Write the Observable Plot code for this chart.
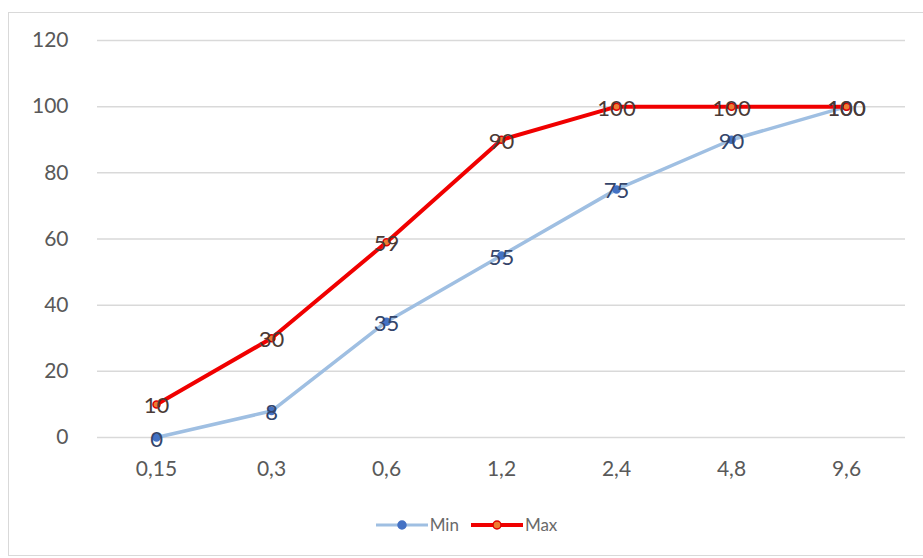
<!DOCTYPE html>
<html><head><meta charset="utf-8">
<script src="https://cdn.jsdelivr.net/npm/d3@7"></script>
<script src="https://cdn.jsdelivr.net/npm/@observablehq/plot@0.6"></script>
<style>
body{margin:0;background:#fff;font-family:Lato,"Open Sans",sans-serif;}
#wrap{position:relative;width:923px;height:558px;overflow:hidden;}
#frame{position:absolute;left:8px;top:12px;width:930px;height:544px;border:1px solid #d9d9d9;box-sizing:border-box;}
#chart{position:absolute;left:0;top:0;}
#legend{position:absolute;top:514px;left:0;width:923px;display:flex;justify-content:center;gap:12px;font-size:17px;color:#6a6a6a;padding-left:10px;box-sizing:border-box;}
.item{display:flex;align-items:center;gap:2px;}
</style></head>
<body><div id="wrap"><div id="frame"></div><div id="chart"></div><div id="legend"></div></div>
<script>
const categories = ["0,15","0,3","0,6","1,2","2,4","4,8","9,6"];
const minValues = [0, 8, 35, 55, 75, 90, 100];
const maxValues = [10, 30, 59, 90, 100, 100, 100];
const yTicks = [0, 20, 40, 60, 80, 100, 120];
const seriesNames = ["Min", "Max"];

const minData = categories.map((c,i)=>({cat:c, v:minValues[i]}));
const maxData = categories.map((c,i)=>({cat:c, v:maxValues[i]}));

const chart = Plot.plot({
  width: 923, height: 500,
  marginLeft: 97, marginRight: 18, marginTop: 40, marginBottom: 63,
  style: {fontFamily: "Lato, 'Open Sans', sans-serif", background: "transparent"},
  x: {type: "point", domain: categories, padding: 0.5, label: null},
  y: {domain: [0, 120], ticks: yTicks, label: null},
  marks: [
    Plot.gridY(yTicks, {stroke: "#d9d9d9", strokeOpacity: 1, strokeWidth: 1.5}),
    Plot.axisY(yTicks, {tickSize: 0, tickPadding: 29, fontSize: 21, fill: "#595959", tickFormat: d=>String(d)}),
    Plot.axisX({tickSize: 0, tickPadding: 24, fontSize: 21, fill: "#595959"}),
    Plot.line(minData, {x: "cat", y: "v", stroke: "#9fbfe2", strokeWidth: 3.5}),
    Plot.line(maxData, {x: "cat", y: "v", stroke: "#f00000", strokeWidth: 4}),
    Plot.dot(minData, {x: "cat", y: "v", r: 3.5, fill: "#4472c4", stroke: "#4472c4"}),
    Plot.dot(maxData, {x: "cat", y: "v", r: 3.5, fill: "#ed7d31", stroke: "#e00000", strokeWidth: 1.5}),
    Plot.text(minData, {x: "cat", y: "v", text: d=>String(d.v), fontSize: 22, fill: "#34456a", dy: 2}),
    Plot.text(maxData, {x: "cat", y: "v", text: d=>String(d.v), fontSize: 22, fill: "#4a3a36", dy: 2})
  ]
});
document.getElementById("chart").appendChild(chart);

const legend = document.getElementById("legend");
const legendStyles = [{line:"#9fbfe2", fill:"#4472c4", stroke:"#4472c4"},{line:"#f00000", fill:"#ed7d31", stroke:"#e00000"}];
seriesNames.forEach((name,i)=>{
  const s = legendStyles[i];
  const item = document.createElement("div"); item.className="item";
  item.innerHTML = `<svg width="52" height="14"><line x1="0" y1="7" x2="52" y2="7" stroke="${s.line}" stroke-width="${i?4:3}"/><circle cx="26" cy="7" r="4" fill="${s.fill}" stroke="${s.stroke}" stroke-width="1.5"/></svg><span>${name}</span>`;
  legend.appendChild(item);
});
</script></body></html>
